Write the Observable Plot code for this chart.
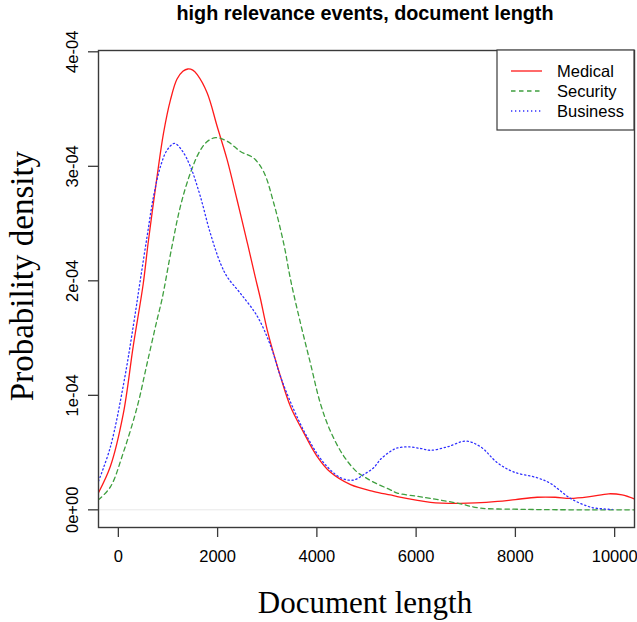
<!DOCTYPE html>
<html><head><meta charset="utf-8">
<script src="https://cdn.jsdelivr.net/npm/d3@7"></script>
<script src="https://cdn.jsdelivr.net/npm/@observablehq/plot@0.6"></script>
<style>
body{margin:0;background:#fff;}
#wrap{position:relative;width:637px;height:622px;}
#over{position:absolute;left:0;top:0;pointer-events:none;}
</style></head><body><div id="wrap"></div>
<script>
const titleText = "high relevance events, document length";
const xLabel = "Document length";
const yLabel = "Probability density";
const xTicks = [0, 2000, 4000, 6000, 8000, 10000];
const yTicks = [0, 1e-4, 2e-4, 3e-4, 4e-4];
const yTickLabels = ["0e+00", "1e-04", "2e-04", "3e-04", "4e-04"];
const seriesNames = ["Medical", "Security", "Business"];
const seriesColors = ["#ff1a1a", "#3f9f3f", "#3030ff"];
const seriesDash = [null, "4.5,3.5", "1.3,2.7"];

// densities are given in units of 1e-4
const medicalX = [-400,-160,100,300,500,600,780,910,1050,1180,1300,1400,1500,1590,1790,1990,2190,2390,2600,2760,2860,3000,3270,3470,3740,4000,4270,4680,5150,5480,5620,6000,6290,6830,7200,7640,8000,8440,8800,9110,9500,9880,10150,10400];
const medicalY = [0.15,0.38,0.84,1.43,1.97,2.33,2.91,3.29,3.58,3.76,3.83,3.85,3.84,3.80,3.64,3.35,3.06,2.71,2.33,2.03,1.85,1.57,1.16,0.90,0.67,0.47,0.33,0.22,0.16,0.13,0.116,0.085,0.066,0.057,0.06,0.073,0.09,0.11,0.11,0.10,0.115,0.14,0.13,0.095];

const securityX = [-400,-160,100,380,580,780,880,1080,1250,1450,1650,1800,1960,2190,2460,2730,2930,3130,3330,3470,3670,3870,4070,4270,4540,4810,4950,5150,5480,5620,6000,6290,6830,7300,7970,8500,9500,10400];
const securityY = [0.087,0.20,0.50,0.90,1.28,1.66,1.84,2.30,2.65,2.94,3.14,3.22,3.25,3.22,3.13,3.07,2.95,2.68,2.33,2.01,1.63,1.28,0.93,0.69,0.47,0.33,0.29,0.24,0.175,0.146,0.12,0.10,0.058,0.015,0.006,0.002,0.0,0.0];

const businessX = [-400,-160,110,310,440,580,710,850,980,1130,1280,1450,1650,1850,2060,2200,2460,2800,3070,3270,3540,3800,4140,4480,4740,4950,5150,5280,5480,5620,5850,6100,6290,6630,7000,7300,7640,7970,8440,8710,9110,9520,9850,9950];
const businessY = [0.25,0.55,1.11,1.63,2.0,2.39,2.74,3.00,3.14,3.20,3.14,3.00,2.74,2.42,2.15,2.03,1.89,1.69,1.43,1.16,0.87,0.64,0.41,0.28,0.26,0.31,0.37,0.44,0.51,0.54,0.55,0.535,0.52,0.55,0.60,0.55,0.41,0.33,0.28,0.23,0.10,0.023,0.006,0.004];

const seriesX = [medicalX, securityX, businessX];
const seriesY = [medicalY, securityY, businessY];

const lineMarks = seriesNames.map((name, k) => {
  const rows = seriesX[k].map((x, i) => ({series: name, x, y: seriesY[k][i] * 1e-4}));
  return Plot.line(rows, {
    x: "x", y: "y", stroke: seriesColors[k], strokeWidth: 1.3,
    strokeDasharray: seriesDash[k], curve: "catmull-rom", clip: true
  });
});

const chart = Plot.plot({
  width: 637, height: 622,
  marginLeft: 98, marginRight: 3, marginTop: 50, marginBottom: 95,
  style: {fontFamily: "'Liberation Sans', Arial, sans-serif", fontSize: "16.5px", background: "white", color: "#000", overflow: "visible"},
  x: {domain: [-400, 10400]},
  y: {domain: [-0.1543e-4, 4.0114e-4]},
  marks: [
    Plot.ruleY([0], {stroke: "#e8e8e8"}),
    ...lineMarks,
    Plot.frame({stroke: "#3a3a3a", strokeWidth: 1.4}),
    Plot.axisX({ticks: xTicks, tickSize: 10, tickPadding: 13, label: null, tickFormat: d => String(d), stroke: "#3a3a3a", strokeWidth: 1.3}),
    Plot.axisY({ticks: yTicks, tickSize: 10, tickPadding: 11, tickRotate: -90, label: null, tickFormat: (d, i) => yTickLabels[i], stroke: "#3a3a3a", strokeWidth: 1.3})
  ]
});
document.getElementById("wrap").appendChild(chart);

// overlay: title, axis titles, legend
const ns = "http://www.w3.org/2000/svg";
const over = document.createElementNS(ns, "svg");
over.setAttribute("id", "over");
over.setAttribute("width", 637);
over.setAttribute("height", 622);
function el(tag, attrs, text) {
  const e = document.createElementNS(ns, tag);
  for (const k in attrs) e.setAttribute(k, attrs[k]);
  if (text != null) e.textContent = text;
  over.appendChild(e);
  return e;
}
el("text", {x: 365, y: 20, "text-anchor": "middle", "font-family": "'Liberation Sans', Arial, sans-serif", "font-weight": "bold", "font-size": "19.8px"}, titleText);
el("text", {x: 365, y: 613, "text-anchor": "middle", "font-family": "'Liberation Serif', 'Times New Roman', serif", "font-size": "31px"}, xLabel);
el("text", {x: 0, y: 0, transform: "translate(33,276) rotate(-90)", "text-anchor": "middle", "font-family": "'Liberation Serif', 'Times New Roman', serif", "font-size": "33px"}, yLabel);
el("rect", {x: 497, y: 50, width: 137, height: 80, fill: "white", stroke: "#3a3a3a", "stroke-width": 1.2});
seriesNames.forEach((name, k) => {
  const yy = 71 + k * 20;
  const a = {x1: 511, x2: 542, y1: yy, y2: yy, stroke: seriesColors[k], "stroke-width": 1.3};
  if (seriesDash[k]) a["stroke-dasharray"] = seriesDash[k];
  el("line", a);
  el("text", {x: 557, y: yy + 6, "font-family": "'Liberation Sans', Arial, sans-serif", "font-size": "16.5px"}, name);
});
document.getElementById("wrap").appendChild(over);
</script>
</body></html>
